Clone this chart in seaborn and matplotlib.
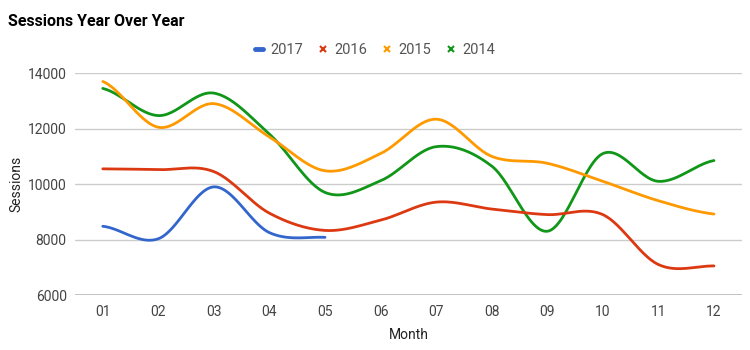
import numpy as np
import pandas as pd
import matplotlib
matplotlib.use("Agg")
import matplotlib.pyplot as plt
from matplotlib.lines import Line2D
import seaborn as sns

months = ["01", "02", "03", "04", "05", "06", "07", "08", "09", "10", "11", "12"]
s2017 = [8480, 8030, 9900, 8250, 8080]
s2016 = [10550, 10520, 10450, 8950, 8330, 8700, 9350, 9100, 8900, 8900, 7100, 7050]
s2015 = [13700, 12050, 12900, 11700, 10480, 11100, 12340, 11000, 10750, 10100, 9400, 8920]
s2014 = [13450, 12470, 13280, 11800, 9700, 10120, 11350, 10650, 8300, 11100, 10100, 10850]
series = {"2017": s2017, "2016": s2016, "2015": s2015, "2014": s2014}
colors = {"2017": "#3366cc", "2016": "#dc3912", "2015": "#ff9900", "2014": "#109618"}


def smooth(y, n=30, t=0.5):
    # Catmull-Rom style smoothing between data points
    y = np.asarray(y, float)
    x = np.arange(len(y), dtype=float)
    xs, ys = [], []
    for i in range(len(y) - 1):
        p0 = y[i - 1] if i > 0 else y[i]
        p1, p2 = y[i], y[i + 1]
        p3 = y[i + 2] if i + 2 < len(y) else y[i + 1]
        m1 = t * (p2 - p0) if i > 0 else t * (p2 - p1)
        m2 = t * (p3 - p1) if i + 2 < len(y) else t * (p2 - p1)
        s = np.linspace(0, 1, n, endpoint=False)
        h00 = 2 * s**3 - 3 * s**2 + 1
        h10 = s**3 - 2 * s**2 + s
        h01 = -2 * s**3 + 3 * s**2
        h11 = s**3 - s**2
        xs.append(x[i] + s)
        ys.append(h00 * p1 + h10 * m1 + h01 * p2 + h11 * m2)
    xs.append([x[-1]])
    ys.append([y[-1]])
    return np.concatenate(xs), np.concatenate(ys)


rows = []
for name, vals in series.items():
    xs, ys = smooth(vals)
    rows.append(pd.DataFrame({"x": xs, "Sessions": ys, "year": name}))
df = pd.concat(rows, ignore_index=True)

sns.set_style("white")
plt.rcParams["font.family"] = ["Roboto", "DejaVu Sans"]

fig = plt.figure(figsize=(7.5, 3.5), dpi=100)
ax = fig.add_axes([0.1, 0.157, 0.889, 0.634])

order = ["2014", "2015", "2016", "2017"]
for name in order:
    sns.lineplot(data=df[df.year == name], x="x", y="Sessions", color=colors[name],
                 lw=2, ax=ax, legend=False, sort=False, estimator=None)

ax.set_xlim(-0.5, 11.5)
ax.set_ylim(6000, 14000)
ax.set_yticks([6000, 8000, 10000, 12000, 14000])
ax.set_xticks(range(12))
ax.set_xticklabels(months)
ax.tick_params(axis="both", length=0, labelsize=10, colors="#444444")
ax.tick_params(axis="x", pad=7)
ax.tick_params(axis="y", pad=6)
for sp in ax.spines.values():
    sp.set_visible(False)
ax.grid(axis="y", color="#cccccc", lw=1)
ax.axhline(6000, color="#bbbbbb", lw=1.3, zorder=0)
ax.set_axisbelow(True)
ax.set_xlabel("Month", fontsize=10, color="#222222")
ax.set_ylabel("Sessions", fontsize=10, color="#222222")
ax.xaxis.set_label_coords(0.5, -0.15)
ax.yaxis.set_label_coords(-0.078, 0.5)

fig.text(0.011, 0.94, "Sessions Year Over Year", fontsize=11.5, fontweight="bold",
         color="#000000", ha="left", va="center")

handles = [Line2D([], [], color=colors["2017"], lw=3.5, solid_capstyle="round")]
for name in ["2016", "2015", "2014"]:
    handles.append(Line2D([], [], color=colors[name], lw=0, marker="x", markersize=5, mew=1.5))
leg = fig.legend(handles, ["2017", "2016", "2015", "2014"], loc="center",
                 bbox_to_anchor=(0.5, 0.858), ncol=4, frameon=False, fontsize=10.5,
                 handlelength=0.55, handletextpad=0.5, columnspacing=1.1)
for t in leg.get_texts():
    t.set_color("#555555")

fig.savefig("out.png", dpi=100)
